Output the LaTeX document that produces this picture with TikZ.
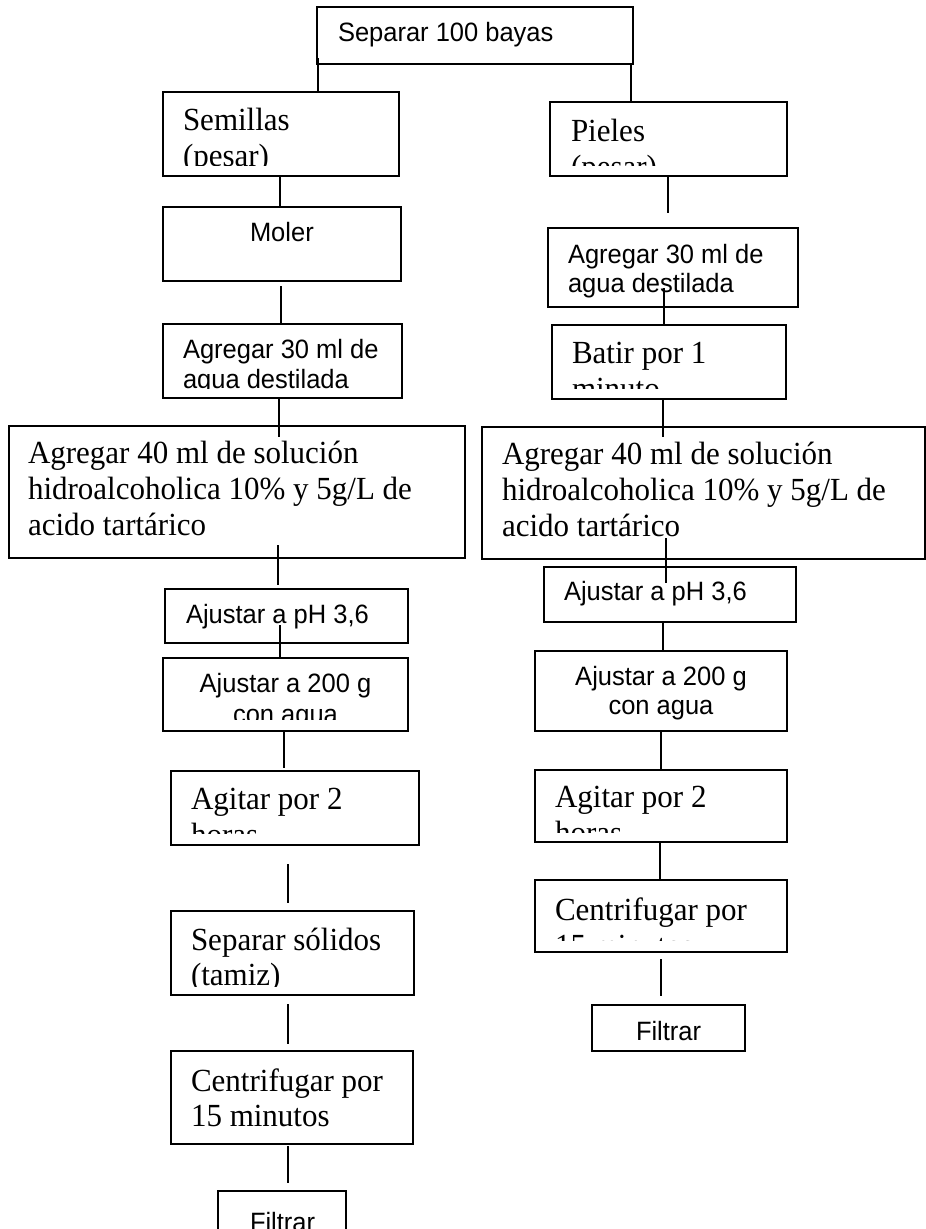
\documentclass[tikz,border=0pt]{standalone}
\usepackage{fontspec}
\setmainfont{Liberation Serif}
\newfontfamily\arialf{Liberation Sans}
\usetikzlibrary{calc}
\tikzset{
 boxst/.style={draw=black, line width=2pt, rectangle, inner sep=0pt, outer sep=0pt},
 ln/.style={draw=black, line width=1.8pt},
 sanst/.style={inner sep=0pt, outer sep=0pt, font=\arialf\fontsize{25.5}{29}\selectfont},
 serift/.style={inner sep=0pt, outer sep=0pt, font=\fontsize{31}{36}\selectfont},
}
\newcommand\flbox[5]{\node[boxst, minimum width={(#4-#2)*1pt}, minimum height={(#5-#3)*1pt}] (#1) at ({(#2+#4)/2},{(#3+#5)/2}) {};}
\newcommand\txw[5]{\node[#1, anchor=base west] (#2) at (#3,#4) {\scalebox{1}[1.04]{#5}};}
\newcommand\txc[5]{\node[#1, anchor=base] (#2) at (#3,#4) {\scalebox{1}[1.04]{#5}};}
\newcommand\clipbox[2]{\clip (#1.north west) rectangle ($(#1.south east)+(0,-#2)$);}
\begin{document}
\begin{tikzpicture}[x=1pt,y=-1pt]
\fill[white] (0,0) rectangle (926,1229);
\useasboundingbox (0,0) rectangle (926,1229);
% boxes
\flbox{top}{317}{7}{633}{64}
\flbox{sem}{163}{92}{399}{176}
\flbox{pie}{550}{102}{787}{176}
\flbox{moler}{163}{207}{401}{281}
\flbox{ragua}{548}{228}{798}{307}
\flbox{lagua}{163}{324}{402}{398}
\flbox{batir}{552}{325}{786}{399}
\flbox{lbig}{9}{426}{465}{558}
\flbox{rbig}{482}{427}{925}{559}
\flbox{lph}{165}{589}{408}{643}
\flbox{rph}{544}{567}{796}{622}
\flbox{ltwo}{163}{658}{408}{731}
\flbox{rtwo}{535}{651}{787}{731}
\flbox{lagit}{171}{771}{419}{845}
\flbox{ragit}{535}{770}{787}{842}
\flbox{lsep}{171}{911}{414}{995}
\flbox{rcent}{535}{880}{787}{952}
\flbox{lcent}{171}{1051}{413}{1144}
\flbox{rfil}{592}{1005}{745}{1051}
\flbox{lfil}{218}{1191}{346}{1240}
% texts
\txw{sanst}{t1}{338}{41}{Separar 100 bayas}
\begin{scope}\clipbox{sem}{11}
\txw{serift}{t2}{183}{130}{Semillas}
\txw{serift}{t3}{183}{166}{(pesar)}
\end{scope}
\begin{scope}\clipbox{pie}{11}
\txw{serift}{t4}{571}{141}{Pieles}
\txw{serift}{t5}{571}{177}{(pesar)}
\end{scope}
\txw{sanst}{t6}{250}{241}{Moler}
\txw{sanst}{t7}{568}{263}{Agregar 30 ml de}
\txw{sanst}{t8}{568}{292}{agua destilada}
\begin{scope}\clipbox{lagua}{9.5}
\txw{sanst}{t9}{183}{358}{Agregar 30 ml de}
\txw{sanst}{t10}{183}{388}{agua destilada}
\end{scope}
\begin{scope}\clipbox{batir}{11}
\txw{serift}{t11}{572}{363}{Batir por 1}
\txw{serift}{t12}{572}{399}{minuto}
\end{scope}
\txw{serift}{t13}{28}{463}{Agregar 40 ml de solución}
\txw{serift}{t14}{28}{499}{hidroalcoholica 10\% y 5g/L de}
\txw{serift}{t15}{28}{535}{acido tartárico}
\txw{serift}{t16}{502}{464}{Agregar 40 ml de solución}
\txw{serift}{t17}{502}{500}{hidroalcoholica 10\% y 5g/L de}
\txw{serift}{t18}{502}{536}{acido tartárico}
\txw{sanst}{t19}{186}{623}{Ajustar a pH 3,6}
\txw{sanst}{t20}{564}{600}{Ajustar a pH 3,6}
\begin{scope}\clipbox{ltwo}{12}
\txc{sanst}{t21}{285.5}{692}{Ajustar a 200 g}
\txc{sanst}{t22}{285.5}{723.5}{con agua}
\end{scope}
\txc{sanst}{t23}{661}{685}{Ajustar a 200 g}
\txc{sanst}{t24}{661}{714}{con agua}
\begin{scope}\clipbox{lagit}{12}
\txw{serift}{t25}{191}{809}{Agitar por 2}
\txw{serift}{t26}{191}{845}{horas}
\end{scope}
\begin{scope}\clipbox{ragit}{10}
\txw{serift}{t27}{555}{807}{Agitar por 2}
\txw{serift}{t28}{555}{843}{horas}
\end{scope}
\begin{scope}\clipbox{lsep}{9}
\txw{serift}{t29}{191}{950}{Separar sólidos}
\txw{serift}{t30}{191}{985}{(tamiz)}
\end{scope}
\begin{scope}\clipbox{rcent}{12}
\txw{serift}{t31}{555}{920}{Centrifugar por}
\txw{serift}{t32}{555}{956}{15 minutos}
\end{scope}
\txw{serift}{t33}{191}{1091}{Centrifugar por}
\txw{serift}{t34}{191}{1126}{15 minutos}
\txw{sanst}{t35}{636}{1040}{Filtrar}
\txw{sanst}{t36}{250}{1231}{Filtrar}
% connectors
\draw[ln] ($(top.south)+(-157,-6)$) -- ($(sem.north)+(37,0)$);
\draw[ln] ($(top.south)+(156,0)$) -- ($(pie.north)+(-37.5,0)$);
\draw[ln] ($(sem.south)+(-1,0)$) -- ($(moler.north)+(-2,0)$);
\draw[ln] ($(pie.south)+(-0.5,1)$) -- ($(ragua.north)+(-5,-15)$);
\draw[ln] ($(moler.south)+(-1,5)$) -- ($(lagua.north)+(-1.5,0)$);
\draw[ln] ($(ragua.south)+(-9,-19)$) -- ($(batir.north)+(-5,0)$);
\draw[ln] ($(lagua.south)+(-3.5,0)$) -- ($(lbig.north)+(42,11)$);
\draw[ln] ($(batir.south)+(-6,0)$) -- ($(rbig.north)+(-40.5,10)$);
\draw[ln] ($(lbig.south)+(41,-13)$) -- ($(lph.north)+(-8.5,-4)$);
\draw[ln] ($(rbig.south)+(-37.5,-21)$) -- ($(rph.north)+(-4,16)$);
\draw[ln] ($(lph.south)+(-6.5,-18)$) -- ($(ltwo.north)+(-5.5,0)$);
\draw[ln] ($(rph.south)+(-7,0)$) -- ($(rtwo.north)+(2,0)$);
\draw[ln] ($(ltwo.south)+(-1.5,0)$) -- ($(lagit.north)+(-11,-3)$);
\draw[ln] (rtwo.south) -- (ragit.north);
\draw[ln] ($(lagit.south)+(-7,19)$) -- ($(lsep.north)+(-4.5,-8)$);
\draw[ln] ($(ragit.south)+(-1,0)$) -- ($(rcent.north)+(-1,0)$);
\draw[ln] ($(lsep.south)+(-4.5,9)$) -- ($(lcent.north)+(-4,-7)$);
\draw[ln] ($(rcent.south)+(0,7)$) -- ($(rfil.north)+(-7.5,-9)$);
\draw[ln] ($(lcent.south)+(-4,2)$) -- ($(lfil.north)+(6,-8)$);
\end{tikzpicture}
\end{document}
